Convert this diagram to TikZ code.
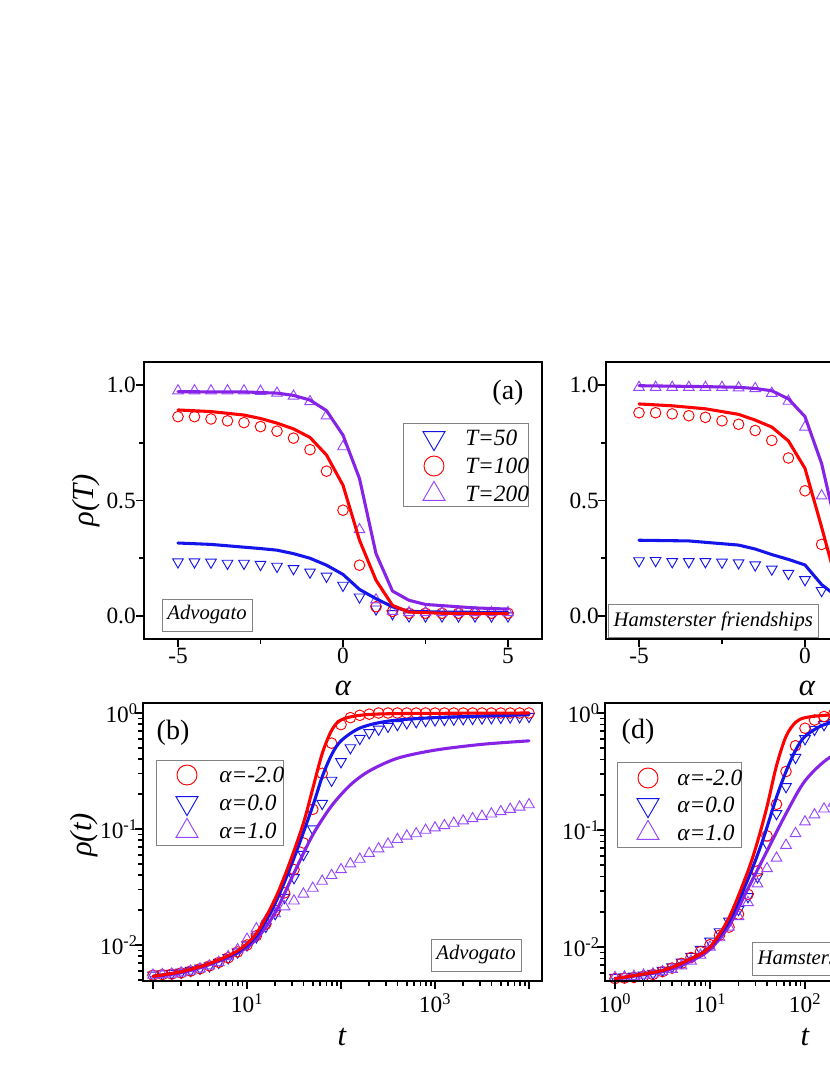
\documentclass[tikz,border=0pt]{standalone}
\usepackage{fontspec}
\setmainfont{Liberation Serif}
\usetikzlibrary{plotmarks}
\definecolor{cred}{RGB}{255,0,0}
\definecolor{cblue}{RGB}{20,20,235}
\definecolor{cpurp}{RGB}{135,35,230}
\definecolor{cpurpm}{RGB}{150,70,255}
\definecolor{cbox}{RGB}{130,130,130}
\tikzset{
  curve/.style={line width=2.3pt, line join=round, line cap=round},
  frame/.style={line width=2.2pt},
  lbox/.style={draw=cbox, line width=0.6pt, fill=white},
  tick/.style={line width=1.2pt},
  ticklab/.style={font=\fontsize{17.5}{19}\selectfont, inner sep=0pt},
  axlab/.style={font=\fontsize{23}{25}\selectfont\itshape, inner sep=0pt},
  panlab/.style={font=\fontsize{21}{23}\selectfont, inner sep=0pt},
  legtxt/.style={font=\fontsize{17.5}{19}\selectfont\itshape, anchor=west, inner sep=0pt},
  nettxt/.style={font=\fontsize{15.5}{17}\selectfont\itshape, inner sep=0pt},
  mcirc/.style={draw=cred, line width=0.7pt},
  mdown/.style={draw=cblue, line width=0.7pt},
  mup/.style={draw=cpurpm, line width=0.7pt},
}
\begin{document}
\begin{tikzpicture}[x=0.75pt,y=-0.75pt]
\path[use as bounding box, fill=white] (0,0) rectangle (830,1075);

%================ panel (a)
\begin{scope}[shift={(343,616)}, x=24.75pt, y=173.25pt]
\draw[mdown] plot[only marks, mark=triangle, mark size=4.6pt, mark options={rotate=180}] coordinates {(-5,0.234)(-4.5,0.234)(-4,0.233)(-3.5,0.228)(-3,0.228)(-2.5,0.223)(-2,0.215)(-1.5,0.205)(-1,0.19)(-0.5,0.172)(0,0.133)(0.5,0.082)(1,0.03)(1.5,0.01)(2,0)(2.5,0)(3,0)(3.5,0)(4,0)(4.5,0)(5,0)};
\draw[mcirc] plot[only marks, mark=o, mark size=4pt] coordinates {(-5,0.863)(-4.5,0.863)(-4,0.853)(-3.5,0.845)(-3,0.837)(-2.5,0.82)(-2,0.8)(-1.5,0.77)(-1,0.72)(-0.5,0.627)(0,0.458)(0.5,0.22)(1,0.04)(1.5,0.02)(2,0.012)(2.5,0.012)(3,0.012)(3.5,0.012)(4,0.012)(4.5,0.012)(5,0.012)};
\draw[mup] plot[only marks, mark=triangle, mark size=4.6pt] coordinates {(-5,0.975)(-4.5,0.975)(-4,0.975)(-3.5,0.975)(-3,0.975)(-2.5,0.973)(-2,0.965)(-1.5,0.952)(-1,0.928)(-0.5,0.867)(0,0.733)(0.5,0.374)(1,0.07)(1.5,0.02)(2,0.015)(2.5,0.015)(3,0.015)(3.5,0.015)(4,0.015)(4.5,0.015)(5,0.015)};
\draw[curve, cblue] plot coordinates {(-5,0.316)(-4,0.31)(-3,0.298)(-2.5,0.292)(-2,0.285)(-1.5,0.27)(-1,0.25)(-0.5,0.22)(0,0.18)(0.5,0.115)(1,0.075)(1.5,0.04)(2,0.02)(3,0.017)(5,0.015)};
\draw[curve, cpurp] plot coordinates {(-5,0.971)(-3,0.97)(-2,0.965)(-1.5,0.955)(-1,0.935)(-0.5,0.889)(0,0.783)(0.5,0.595)(1,0.27)(1.5,0.108)(2,0.068)(2.5,0.05)(3,0.045)(4,0.035)(5,0.03)};
\draw[curve, cred] plot coordinates {(-5,0.892)(-4,0.885)(-3,0.87)(-2.5,0.855)(-2,0.835)(-1.5,0.81)(-1,0.773)(-0.5,0.697)(0,0.566)(0.5,0.328)(1,0.155)(1.5,0.046)(2,0.017)(3,0.012)(5,0.01)};
\foreach \v in {0,0.5,1} \draw[tick] (-6.03,\v) -- ++(-6pt,0);
\foreach \v in {0.25,0.75} \draw[tick] (-6.03,\v) -- ++(-3.5pt,0);
\foreach \u in {-5,0,5} \draw[tick] (\u,-0.0996) -- ++(0,-6pt);
\foreach \u in {-2.5,2.5} \draw[tick] (\u,-0.0996) -- ++(0,-3.5pt);
\end{scope}
\draw[frame] (144,362) rectangle (542,639);
\node[ticklab, anchor=east] (a10) at (136,385) {1.0};
\node[ticklab, anchor=east] (a05) at (136,501) {0.5};
\node[ticklab, anchor=east] (a00) at (136,616) {0.0};
\node[ticklab] (ax1) at (178,656) {-5};
\node[ticklab] (ax2) at (343,656) {0};
\node[ticklab] (ax3) at (508,656) {5};
\node[axlab] (alab) at (343,688) {α};
\node[axlab, rotate=90] (rlab) at (86,500) {ρ(T)};
\node[panlab] (pa) at (508,393) {(a)};
\draw[lbox] (403,423) rectangle (528,506);
\draw[mdown] plot[only marks, mark=triangle, mark size=9.5pt, mark options={rotate=180}] coordinates {(434,438)};
\draw[mcirc] plot[only marks, mark=o, mark size=7.5pt] coordinates {(434,466)};
\draw[mup] plot[only marks, mark=triangle, mark size=9.5pt] coordinates {(434,494)};
\node[legtxt] (la1) at (465,438) {T=50};
\node[legtxt] (la2) at (465,466) {T=100};
\node[legtxt] (la3) at (465,494) {T=200};
\node[nettxt, lbox, inner xsep=4pt, inner ysep=5pt] (na) at (207,615) {Advogato};

%================ panel (c)
\begin{scope}[shift={(805,616)}, x=24.9pt, y=173.25pt]
\draw[mdown] plot[only marks, mark=triangle, mark size=4.6pt, mark options={rotate=180}] coordinates {(-5,0.239)(-4.5,0.24)(-4,0.235)(-3.5,0.235)(-3,0.235)(-2.5,0.233)(-2,0.23)(-1.5,0.221)(-1,0.203)(-0.5,0.184)(0,0.157)(0.5,0.11)(1,0.06)};
\draw[mcirc] plot[only marks, mark=o, mark size=4pt] coordinates {(-5,0.88)(-4.5,0.88)(-4,0.875)(-3.5,0.867)(-3,0.86)(-2.5,0.845)(-2,0.83)(-1.5,0.803)(-1,0.76)(-0.5,0.684)(0,0.542)(0.5,0.31)(1,0.08)};
\draw[mup] plot[only marks, mark=triangle, mark size=4.6pt] coordinates {(-5,0.99)(-4.5,0.99)(-4,0.99)(-3.5,0.99)(-3,0.99)(-2.5,0.99)(-2,0.988)(-1.5,0.985)(-1,0.964)(-0.5,0.93)(0,0.818)(0.5,0.52)(1,0.15)};
\draw[curve, cblue] plot coordinates {(-5,0.328)(-3.5,0.325)(-2,0.307)(-1.5,0.29)(-1,0.266)(-0.5,0.245)(0,0.221)(0.5,0.136)(1,0.08)(1.5,0.04)};
\draw[curve, cpurp] plot coordinates {(-5,0.997)(-3,0.993)(-2,0.99)(-1.5,0.985)(-1,0.975)(-0.5,0.94)(0,0.863)(0.5,0.66)(1,0.35)(1.5,0.12)};
\draw[curve, cred] plot coordinates {(-5,0.918)(-4,0.91)(-3,0.897)(-2,0.873)(-1.5,0.848)(-1,0.818)(-0.5,0.758)(0,0.639)(0.5,0.385)(1,0.12)(1.5,0.04)};
\foreach \v in {0,0.5,1} \draw[tick] (-5.99,\v) -- ++(-6pt,0);
\foreach \v in {0.25,0.75} \draw[tick] (-5.99,\v) -- ++(-3.5pt,0);
\foreach \u in {-5,0,5} \draw[tick] (\u,-0.0996) -- ++(0,-6pt);
\foreach \u in {-2.5,2.5} \draw[tick] (\u,-0.0996) -- ++(0,-3.5pt);
\end{scope}
\draw[frame] (860,362) -- (606,362) -- (606,639) -- (860,639);
\node[ticklab, anchor=east] (c10) at (599,385) {1.0};
\node[ticklab, anchor=east] (c05) at (599,501) {0.5};
\node[ticklab, anchor=east] (c00) at (599,616) {0.0};
\node[ticklab] (cx1) at (639,656) {-5};
\node[ticklab] (cx2) at (805,656) {0};
\node[axlab] (clab) at (807,688) {α};
\node[nettxt, lbox, anchor=west, inner xsep=4pt, inner ysep=5pt] (nc) at (608,621) {Hamsterster friendships};

%================ panel (b)
\begin{scope}[shift={(153,713)}, x=70.5pt, y=87pt]
\draw[mdown] plot[only marks, mark=triangle, mark size=4.6pt, mark options={rotate=180}] coordinates {(0,-2.26)(0.1,-2.25)(0.2,-2.245)(0.3,-2.235)(0.4,-2.22)(0.5,-2.2)(0.6,-2.18)(0.7,-2.15)(0.8,-2.11)(0.9,-2.06)(1.0,-2.0)(1.1,-1.93)(1.2,-1.84)(1.3,-1.73)(1.4,-1.59)(1.5,-1.42)(1.6,-1.22)(1.7,-1.0)(1.8,-0.78)(1.9,-0.58)(2.0,-0.42)(2.1,-0.3)(2.2,-0.22)(2.3,-0.17)(2.4,-0.14)(2.5,-0.115)(2.6,-0.1)(2.7,-0.085)(2.8,-0.075)(2.9,-0.065)(3.0,-0.06)(3.1,-0.056)(3.2,-0.053)(3.3,-0.05)(3.4,-0.047)(3.5,-0.044)(3.6,-0.041)(3.7,-0.038)(3.8,-0.035)(3.9,-0.033)(4.0,-0.03)};
\draw[mcirc] plot[only marks, mark=o, mark size=4pt] coordinates {(0,-2.26)(0.1,-2.255)(0.2,-2.25)(0.3,-2.24)(0.4,-2.225)(0.5,-2.205)(0.6,-2.18)(0.7,-2.15)(0.8,-2.11)(0.9,-2.06)(1.0,-2.0)(1.1,-1.92)(1.2,-1.82)(1.3,-1.7)(1.4,-1.55)(1.5,-1.35)(1.6,-1.12)(1.7,-0.83)(1.8,-0.52)(1.9,-0.26)(2.0,-0.1)(2.1,-0.04)(2.2,-0.02)(2.3,-0.01)(2.4,0)(2.5,0)(2.6,0)(2.7,0)(2.8,0)(2.9,0)(3.0,0)(3.1,0)(3.2,0)(3.3,0)(3.4,0)(3.5,0)(3.6,0)(3.7,0)(3.8,0)(3.9,0)(4.0,0)};
\draw[mup] plot[only marks, mark=triangle, mark size=4.6pt] coordinates {(0,-2.26)(0.1,-2.255)(0.2,-2.25)(0.3,-2.24)(0.4,-2.225)(0.5,-2.205)(0.6,-2.18)(0.7,-2.15)(0.8,-2.1)(0.9,-2.04)(1.0,-1.95)(1.1,-1.86)(1.2,-1.79)(1.3,-1.73)(1.4,-1.67)(1.5,-1.62)(1.6,-1.56)(1.7,-1.51)(1.8,-1.45)(1.9,-1.4)(2.0,-1.35)(2.1,-1.3)(2.2,-1.26)(2.3,-1.21)(2.4,-1.17)(2.5,-1.13)(2.6,-1.09)(2.7,-1.06)(2.8,-1.04)(2.9,-1.01)(3.0,-0.99)(3.1,-0.97)(3.2,-0.95)(3.3,-0.93)(3.4,-0.91)(3.5,-0.89)(3.6,-0.87)(3.7,-0.85)(3.8,-0.83)(3.9,-0.81)(4.0,-0.79)};
\draw[curve, cpurp] plot[smooth, tension=0.5] coordinates {(0,-2.27)(0.3,-2.24)(0.6,-2.17)(0.9,-2.07)(1.1,-1.95)(1.3,-1.72)(1.5,-1.38)(1.7,-1.05)(1.9,-0.8)(2.1,-0.62)(2.3,-0.5)(2.6,-0.39)(3.0,-0.32)(3.5,-0.27)(4,-0.24)};
\draw[curve, cblue] plot[smooth, tension=0.5] coordinates {(0,-2.27)(0.3,-2.23)(0.6,-2.16)(0.9,-2.06)(1.1,-1.92)(1.3,-1.64)(1.5,-1.25)(1.7,-0.8)(1.8,-0.55)(1.9,-0.36)(2.0,-0.24)(2.2,-0.13)(2.5,-0.07)(3,-0.04)(4,-0.015)};
\draw[curve, cred] plot[smooth, tension=0.5] coordinates {(0,-2.27)(0.3,-2.23)(0.6,-2.16)(0.9,-2.05)(1.1,-1.9)(1.3,-1.6)(1.45,-1.3)(1.6,-0.95)(1.7,-0.65)(1.8,-0.35)(1.9,-0.15)(2.0,-0.06)(2.2,-0.02)(2.6,-0.005)(4,0)};
\foreach \v in {0,-1,-2} \draw[tick] (-0.1064,\v) -- ++(-6pt,0);
\foreach \k in {5,...,9} \draw[tick] (-0.1064,{-3+log10(\k)}) -- ++(-3.5pt,0);
\foreach \n in {-2,-1} \foreach \k in {2,...,9} \draw[tick] (-0.1064,{\n+log10(\k)}) -- ++(-3.5pt,0);
\foreach \u in {0,1,2,3,4} \draw[tick] (\u,-2.31) -- ++(0,-6pt);
\foreach \n in {0,1,2,3} \foreach \k in {2,...,9} \draw[tick] ({\n+log10(\k)},-2.31) -- ++(0,-3.5pt);
\end{scope}
\draw[frame] (143,703) rectangle (542,981);
\node[ticklab, anchor=east] (b0) at (138,713) {10\textsuperscript{0}};
\node[ticklab, anchor=east] (b1) at (138,829) {10\textsuperscript{-1}};
\node[ticklab, anchor=east] (b2) at (138,945) {10\textsuperscript{-2}};
\node[ticklab] (bx1) at (247,1003) {10\textsuperscript{1}};
\node[ticklab] (bx3) at (435,1003) {10\textsuperscript{3}};
\node[axlab] (tlab) at (342,1037) {t};
\node[axlab, rotate=90] (rtlab) at (84,835) {ρ(t)};
\node[panlab] (pb) at (173,733) {(b)};
\draw[lbox] (156,760) rectangle (283,845);
\draw[mcirc] plot[only marks, mark=o, mark size=7.5pt] coordinates {(187,775)};
\draw[mdown] plot[only marks, mark=triangle, mark size=9.5pt, mark options={rotate=180}] coordinates {(187,803)};
\draw[mup] plot[only marks, mark=triangle, mark size=9.5pt] coordinates {(187,831)};
\node[legtxt] (lb1) at (219,775) {α=-2.0};
\node[legtxt] (lb2) at (219,803) {α=0.0};
\node[legtxt] (lb3) at (219,831) {α=1.0};
\node[nettxt, lbox, inner xsep=4pt, inner ysep=5pt] (nb) at (476,955) {Advogato};

%================ panel (d)
\begin{scope}[shift={(615,713)}, x=71.25pt, y=87.75pt]
\draw[mdown] plot[only marks, mark=triangle, mark size=4.6pt, mark options={rotate=180}] coordinates {(0,-2.26)(0.1,-2.255)(0.2,-2.25)(0.3,-2.24)(0.4,-2.225)(0.5,-2.2)(0.6,-2.17)(0.7,-2.13)(0.8,-2.08)(0.9,-2.02)(1.0,-1.95)(1.1,-1.87)(1.2,-1.78)(1.3,-1.68)(1.4,-1.57)(1.5,-1.4)(1.6,-1.12)(1.7,-0.86)(1.8,-0.63)(1.9,-0.38)(2.0,-0.22)(2.1,-0.14)(2.2,-0.1)(2.3,-0.08)(2.4,-0.07)};
\draw[mcirc] plot[only marks, mark=o, mark size=4pt] coordinates {(0,-2.27)(0.1,-2.265)(0.2,-2.26)(0.3,-2.25)(0.4,-2.235)(0.5,-2.21)(0.6,-2.18)(0.7,-2.14)(0.8,-2.09)(0.9,-2.04)(1.0,-1.98)(1.1,-1.9)(1.2,-1.83)(1.3,-1.72)(1.4,-1.55)(1.5,-1.35)(1.6,-1.05)(1.7,-0.78)(1.8,-0.5)(1.9,-0.28)(2.0,-0.13)(2.1,-0.06)(2.2,-0.03)(2.3,-0.01)(2.4,0)};
\draw[mup] plot[only marks, mark=triangle, mark size=4.6pt] coordinates {(0,-2.26)(0.1,-2.255)(0.2,-2.25)(0.3,-2.24)(0.4,-2.23)(0.5,-2.21)(0.6,-2.19)(0.7,-2.16)(0.8,-2.12)(0.9,-2.07)(1.0,-2.0)(1.1,-1.92)(1.2,-1.83)(1.3,-1.74)(1.4,-1.62)(1.5,-1.46)(1.6,-1.33)(1.7,-1.24)(1.8,-1.13)(1.9,-1.03)(2.0,-0.93)(2.1,-0.87)(2.2,-0.82)(2.3,-0.77)(2.4,-0.73)};
\draw[curve, cpurp] plot[smooth, tension=0.5] coordinates {(0,-2.27)(0.5,-2.21)(0.8,-2.12)(1.0,-2.02)(1.2,-1.82)(1.4,-1.5)(1.6,-1.18)(1.8,-0.86)(2.0,-0.58)(2.26,-0.38)(2.6,-0.27)(3,-0.2)};
\draw[curve, cblue] plot[smooth, tension=0.5] coordinates {(0,-2.27)(0.5,-2.2)(0.8,-2.1)(1.0,-2.0)(1.2,-1.78)(1.4,-1.42)(1.55,-1.1)(1.7,-0.72)(1.8,-0.5)(1.9,-0.32)(2.0,-0.2)(2.2,-0.1)(2.5,-0.05)(3,-0.02)};
\draw[curve, cred] plot[smooth, tension=0.5] coordinates {(0,-2.27)(0.5,-2.2)(0.8,-2.1)(1.0,-2.0)(1.2,-1.75)(1.4,-1.35)(1.5,-1.1)(1.6,-0.8)(1.7,-0.45)(1.8,-0.2)(1.9,-0.08)(2.0,-0.04)(2.2,-0.02)(2.5,-0.01)(3,0)};
\foreach \v in {0,-1,-2} \draw[tick] (-0.105,\v) -- ++(-6pt,0);
\foreach \k in {6,...,9} \draw[tick] (-0.105,{-3+log10(\k)}) -- ++(-3.5pt,0);
\foreach \n in {-2,-1} \foreach \k in {2,...,9} \draw[tick] (-0.105,{\n+log10(\k)}) -- ++(-3.5pt,0);
\foreach \u in {0,1,2,3} \draw[tick] (\u,-2.29) -- ++(0,-6pt);
\foreach \n in {0,1,2} \foreach \k in {2,...,9} \draw[tick] ({\n+log10(\k)},-2.29) -- ++(0,-3.5pt);
\end{scope}
\draw[frame] (860,703) -- (605,703) -- (605,981) -- (860,981);
\node[ticklab, anchor=east] (d0) at (600,713) {10\textsuperscript{0}};
\node[ticklab, anchor=east] (d1) at (600,830) {10\textsuperscript{-1}};
\node[ticklab, anchor=east] (d2) at (600,947) {10\textsuperscript{-2}};
\node[ticklab] (dx0) at (615,1003) {10\textsuperscript{0}};
\node[ticklab] (dx1) at (710,1003) {10\textsuperscript{1}};
\node[ticklab] (dx2) at (805,1003) {10\textsuperscript{2}};
\node[axlab] (tlabd) at (805,1037) {t};
\node[panlab] (pd) at (638,732) {(d)};
\draw[lbox] (617,762) rectangle (741,847);
\draw[mcirc] plot[only marks, mark=o, mark size=7.5pt] coordinates {(648,778)};
\draw[mdown] plot[only marks, mark=triangle, mark size=9.5pt, mark options={rotate=180}] coordinates {(648,805)};
\draw[mup] plot[only marks, mark=triangle, mark size=9.5pt] coordinates {(648,833)};
\node[legtxt] (ld1) at (677,778) {α=-2.0};
\node[legtxt] (ld2) at (677,805) {α=0.0};
\node[legtxt] (ld3) at (677,833) {α=1.0};
\node[nettxt, lbox, anchor=west, inner xsep=4pt, inner ysep=5pt] (nd) at (752,959) {Hamsterster friendships};
\end{tikzpicture}
\end{document}
